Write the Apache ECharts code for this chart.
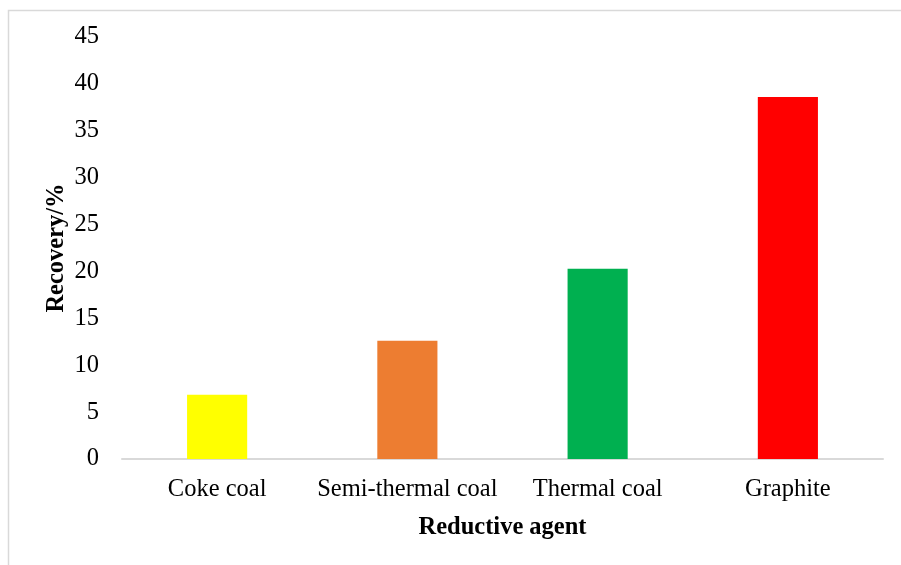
<!DOCTYPE html>
<html>
<head>
<meta charset="utf-8">
<script src="https://cdn.jsdelivr.net/npm/echarts@6/dist/echarts.min.js"></script>
<style>
  html, body { margin: 0; padding: 0; background: #fff; }
  #chart { width: 901px; height: 565px; }
</style>
</head>
<body>
<div id="chart"></div>
<script>
// Recovery by reductive agent
const categories = ['Coke coal', 'Semi-thermal coal', 'Thermal coal', 'Graphite'];
const recovery = [6.85, 12.6, 20.3, 38.6];
const barColors = ['#FFFF00', '#ED7D31', '#00B050', '#FF0000'];
const yTicks = { min: 0, max: 45, interval: 5 };

const FONT = '"Liberation Serif", "Times New Roman", serif';

const chart = echarts.init(document.getElementById('chart'), null, { renderer: 'canvas' });

chart.setOption({
  backgroundColor: '#ffffff',
  animation: false,
  graphic: [{
    type: 'rect',
    silent: true,
    shape: { x: 8.5, y: 10.5, width: 1000, height: 1000 },
    style: { fill: 'none', stroke: '#d9d9d9', lineWidth: 1.5 }
  }],
  grid: { left: 122, right: 18, top: 37, bottom: 106, containLabel: false },
  xAxis: {
    type: 'category',
    data: categories,
    name: 'Reductive agent',
    nameLocation: 'middle',
    nameGap: 56,
    nameMoveOverlap: false,
    nameTextStyle: { fontFamily: FONT, fontSize: 24.5, fontWeight: 'bold', color: '#000' },
    axisLine: { show: true, lineStyle: { color: '#d9d9d9', width: 2 } },
    axisTick: { show: false },
    axisLabel: { fontFamily: FONT, fontSize: 24.5, color: '#000', margin: 18, interval: 0 },
    splitLine: { show: false }
  },
  yAxis: {
    type: 'value',
    min: yTicks.min,
    max: yTicks.max,
    interval: yTicks.interval,
    name: 'Recovery/%',
    nameLocation: 'middle',
    nameGap: 53,
    nameMoveOverlap: false,
    nameRotate: 90,
    nameTextStyle: { fontFamily: FONT, fontSize: 24.5, fontWeight: 'bold', color: '#000' },
    axisLine: { show: false },
    axisTick: { show: false },
    axisLabel: { fontFamily: FONT, fontSize: 24.5, color: '#000', margin: 23 },
    splitLine: { show: false }
  },
  series: [{
    type: 'bar',
    data: recovery.map((v, i) => ({ value: v, itemStyle: { color: barColors[i] } })),
    barWidth: '31.6%'
  }]
});
</script>
</body>
</html>
